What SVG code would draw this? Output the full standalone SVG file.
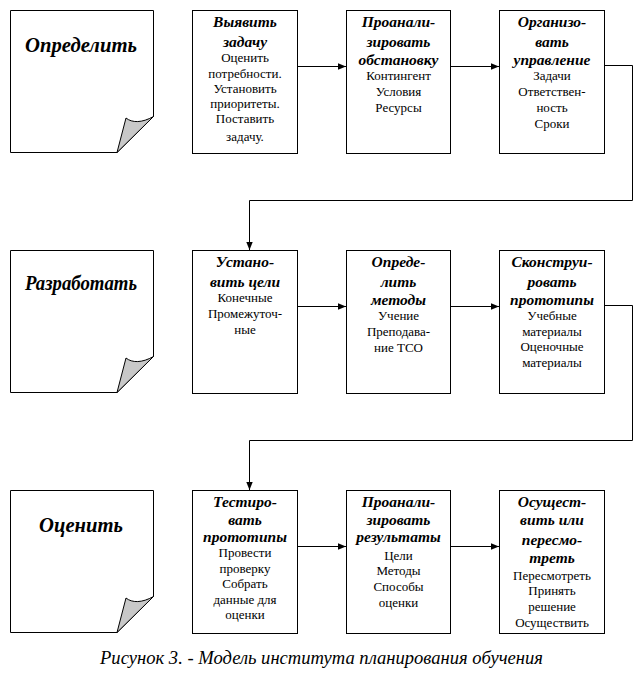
<svg xmlns="http://www.w3.org/2000/svg" width="643" height="691" viewBox="0 0 643 691">
<defs>
<marker id="ah" viewBox="0 0 10 10" refX="10" refY="5" markerWidth="8" markerHeight="8" markerUnits="userSpaceOnUse" orient="auto">
<path d="M0,1 L10,5 L0,9 Z" fill="#000"/>
</marker>
</defs>
<rect width="643" height="691" fill="#fff"/>

<g id="note-define" stroke="#000" stroke-width="1">
<path fill="#fff" d="M10.5,10.5 H153.5 V116.5 L117,152.5 H10.5 Z"/>
<path fill="#c8c8c8" d="M117,152.5 L126,118 C132,123 142,123 153.5,116.5 Z"/>
<text stroke="none" fill="#000" text-anchor="middle" font-family="Liberation Serif" font-weight="bold" font-style="italic" font-size="20" x="81" y="52" textLength="112" lengthAdjust="spacingAndGlyphs">Определить</text>
</g>
<g id="note-develop" stroke="#000" stroke-width="1">
<path fill="#fff" d="M10.5,250.5 H153.5 V356.5 L117,392.5 H10.5 Z"/>
<path fill="#c8c8c8" d="M117,392.5 L126,358 C132,363 142,363 153.5,356.5 Z"/>
<text stroke="none" fill="#000" text-anchor="middle" font-family="Liberation Serif" font-weight="bold" font-style="italic" font-size="20" x="81" y="290" textLength="112" lengthAdjust="spacingAndGlyphs">Разработать</text>
</g>
<g id="note-evaluate" stroke="#000" stroke-width="1">
<path fill="#fff" d="M10.5,490.5 H153.5 V596.5 L117,632.5 H10.5 Z"/>
<path fill="#c8c8c8" d="M117,632.5 L126,598 C132,603 142,603 153.5,596.5 Z"/>
<text stroke="none" fill="#000" text-anchor="middle" font-family="Liberation Serif" font-weight="bold" font-style="italic" font-size="20" x="81" y="532" textLength="84" lengthAdjust="spacingAndGlyphs">Оценить</text>
</g>

<g id="box1">
<rect fill="#fff" stroke="#000" x="192.5" y="10.5" width="105" height="143"/>
<text text-anchor="middle" font-family="Liberation Serif" font-weight="bold" font-style="italic" font-size="15.5" x="245" y="27">Выявить</text>
<text text-anchor="middle" font-family="Liberation Serif" font-weight="bold" font-style="italic" font-size="15.5" x="245" y="47">задачу</text>
<text text-anchor="middle" font-family="Liberation Serif" font-size="13" x="245" y="62">Оценить</text>
<text text-anchor="middle" font-family="Liberation Serif" font-size="13" x="245" y="78">потребности.</text>
<text text-anchor="middle" font-family="Liberation Serif" font-size="13" x="245" y="93">Установить</text>
<text text-anchor="middle" font-family="Liberation Serif" font-size="13" x="245" y="108">приоритеты.</text>
<text text-anchor="middle" font-family="Liberation Serif" font-size="13" x="245" y="123">Поставить</text>
<text text-anchor="middle" font-family="Liberation Serif" font-size="13" x="245" y="141">задачу.</text>
</g>
<g id="box2">
<rect fill="#fff" stroke="#000" x="346.5" y="10.5" width="104" height="143"/>
<text text-anchor="middle" font-family="Liberation Serif" font-weight="bold" font-style="italic" font-size="15.5" x="398.5" y="27">Проанали-</text>
<text text-anchor="middle" font-family="Liberation Serif" font-weight="bold" font-style="italic" font-size="15.5" x="398.5" y="47">зировать</text>
<text text-anchor="middle" font-family="Liberation Serif" font-weight="bold" font-style="italic" font-size="15.5" x="398.5" y="65">обстановку</text>
<text text-anchor="middle" font-family="Liberation Serif" font-size="13" x="398.5" y="80">Контингент</text>
<text text-anchor="middle" font-family="Liberation Serif" font-size="13" x="398.5" y="96">Условия</text>
<text text-anchor="middle" font-family="Liberation Serif" font-size="13" x="398.5" y="112">Ресурсы</text>
</g>
<g id="box3">
<rect fill="#fff" stroke="#000" x="499.5" y="10.5" width="105" height="143"/>
<text text-anchor="middle" font-family="Liberation Serif" font-weight="bold" font-style="italic" font-size="15.5" x="552" y="27">Организо-</text>
<text text-anchor="middle" font-family="Liberation Serif" font-weight="bold" font-style="italic" font-size="15.5" x="552" y="47">вать</text>
<text text-anchor="middle" font-family="Liberation Serif" font-weight="bold" font-style="italic" font-size="15.5" x="552" y="65">управление</text>
<text text-anchor="middle" font-family="Liberation Serif" font-size="13" x="552" y="80">Задачи</text>
<text text-anchor="middle" font-family="Liberation Serif" font-size="13" x="552" y="96">Ответствен-</text>
<text text-anchor="middle" font-family="Liberation Serif" font-size="13" x="552" y="112">ность</text>
<text text-anchor="middle" font-family="Liberation Serif" font-size="13" x="552" y="128">Сроки</text>
</g>

<g id="box4">
<rect fill="#fff" stroke="#000" x="192.5" y="250.5" width="105" height="143"/>
<text text-anchor="middle" font-family="Liberation Serif" font-weight="bold" font-style="italic" font-size="15.5" x="245" y="267">Устано-</text>
<text text-anchor="middle" font-family="Liberation Serif" font-weight="bold" font-style="italic" font-size="15.5" x="245" y="287">вить цели</text>
<text text-anchor="middle" font-family="Liberation Serif" font-size="13" x="245" y="302">Конечные</text>
<text text-anchor="middle" font-family="Liberation Serif" font-size="13" x="245" y="318">Промежуточ-</text>
<text text-anchor="middle" font-family="Liberation Serif" font-size="13" x="245" y="334">ные</text>
</g>
<g id="box5">
<rect fill="#fff" stroke="#000" x="346.5" y="250.5" width="104" height="143"/>
<text text-anchor="middle" font-family="Liberation Serif" font-weight="bold" font-style="italic" font-size="15.5" x="398.5" y="267">Опреде-</text>
<text text-anchor="middle" font-family="Liberation Serif" font-weight="bold" font-style="italic" font-size="15.5" x="398.5" y="287">лить</text>
<text text-anchor="middle" font-family="Liberation Serif" font-weight="bold" font-style="italic" font-size="15.5" x="398.5" y="305">методы</text>
<text text-anchor="middle" font-family="Liberation Serif" font-size="13" x="398.5" y="320">Учение</text>
<text text-anchor="middle" font-family="Liberation Serif" font-size="13" x="398.5" y="336">Преподава-</text>
<text text-anchor="middle" font-family="Liberation Serif" font-size="13" x="398.5" y="352">ние ТСО</text>
</g>
<g id="box6">
<rect fill="#fff" stroke="#000" x="499.5" y="250.5" width="105" height="143"/>
<text text-anchor="middle" font-family="Liberation Serif" font-weight="bold" font-style="italic" font-size="15.5" x="552" y="267">Сконструи-</text>
<text text-anchor="middle" font-family="Liberation Serif" font-weight="bold" font-style="italic" font-size="15.5" x="552" y="287">ровать</text>
<text text-anchor="middle" font-family="Liberation Serif" font-weight="bold" font-style="italic" font-size="15.5" x="552" y="305">прототипы</text>
<text text-anchor="middle" font-family="Liberation Serif" font-size="13" x="552" y="320">Учебные</text>
<text text-anchor="middle" font-family="Liberation Serif" font-size="13" x="552" y="336">материалы</text>
<text text-anchor="middle" font-family="Liberation Serif" font-size="13" x="552" y="351">Оценочные</text>
<text text-anchor="middle" font-family="Liberation Serif" font-size="13" x="552" y="367">материалы</text>
</g>

<g id="box7">
<rect fill="#fff" stroke="#000" x="192.5" y="490.5" width="105" height="143"/>
<text text-anchor="middle" font-family="Liberation Serif" font-weight="bold" font-style="italic" font-size="15.5" x="245" y="507">Тестиро-</text>
<text text-anchor="middle" font-family="Liberation Serif" font-weight="bold" font-style="italic" font-size="15.5" x="245" y="525">вать</text>
<text text-anchor="middle" font-family="Liberation Serif" font-weight="bold" font-style="italic" font-size="15.5" x="245" y="542">прототипы</text>
<text text-anchor="middle" font-family="Liberation Serif" font-size="13" x="245" y="557">Провести</text>
<text text-anchor="middle" font-family="Liberation Serif" font-size="13" x="245" y="573">проверку</text>
<text text-anchor="middle" font-family="Liberation Serif" font-size="13" x="245" y="588">Собрать</text>
<text text-anchor="middle" font-family="Liberation Serif" font-size="13" x="245" y="604">данные для</text>
<text text-anchor="middle" font-family="Liberation Serif" font-size="13" x="245" y="619">оценки</text>
</g>
<g id="box8">
<rect fill="#fff" stroke="#000" x="346.5" y="490.5" width="104" height="143"/>
<text text-anchor="middle" font-family="Liberation Serif" font-weight="bold" font-style="italic" font-size="15.5" x="398.5" y="507">Проанали-</text>
<text text-anchor="middle" font-family="Liberation Serif" font-weight="bold" font-style="italic" font-size="15.5" x="398.5" y="525">зировать</text>
<text text-anchor="middle" font-family="Liberation Serif" font-weight="bold" font-style="italic" font-size="15.5" x="398.5" y="542">результаты</text>
<text text-anchor="middle" font-family="Liberation Serif" font-size="13" x="398.5" y="560">Цели</text>
<text text-anchor="middle" font-family="Liberation Serif" font-size="13" x="398.5" y="575">Методы</text>
<text text-anchor="middle" font-family="Liberation Serif" font-size="13" x="398.5" y="591">Способы</text>
<text text-anchor="middle" font-family="Liberation Serif" font-size="13" x="398.5" y="607">оценки</text>
</g>
<g id="box9">
<rect fill="#fff" stroke="#000" x="499.5" y="490.5" width="105" height="143"/>
<text text-anchor="middle" font-family="Liberation Serif" font-weight="bold" font-style="italic" font-size="15.5" x="552" y="507">Осущест-</text>
<text text-anchor="middle" font-family="Liberation Serif" font-weight="bold" font-style="italic" font-size="15.5" x="552" y="525">вить или</text>
<text text-anchor="middle" font-family="Liberation Serif" font-weight="bold" font-style="italic" font-size="15.5" x="552" y="545">пересмо-</text>
<text text-anchor="middle" font-family="Liberation Serif" font-weight="bold" font-style="italic" font-size="15.5" x="552" y="563">треть</text>
<text text-anchor="middle" font-family="Liberation Serif" font-size="13" x="552" y="580">Пересмотреть</text>
<text text-anchor="middle" font-family="Liberation Serif" font-size="13" x="552" y="595">Принять</text>
<text text-anchor="middle" font-family="Liberation Serif" font-size="13" x="552" y="611">решение</text>
<text text-anchor="middle" font-family="Liberation Serif" font-size="13" x="552" y="627">Осуществить</text>
</g>

<g id="connectors" fill="none" stroke="#000" stroke-width="1">
<path d="M297.5,66.5 H346" marker-end="url(#ah)"/>
<path d="M450.5,66.5 H499" marker-end="url(#ah)"/>
<path d="M604.5,65.5 H632.5 V200.5 H249.5 V250" marker-end="url(#ah)"/>
<path d="M297.5,306.5 H346" marker-end="url(#ah)"/>
<path d="M450.5,306.5 H499" marker-end="url(#ah)"/>
<path d="M604.5,305.5 H632.5 V440.5 H249.5 V490" marker-end="url(#ah)"/>
<path d="M297.5,546.5 H346" marker-end="url(#ah)"/>
<path d="M450.5,546.5 H499" marker-end="url(#ah)"/>
</g>

<text text-anchor="middle" font-family="Liberation Serif" font-style="italic" font-size="18" x="321.5" y="664" textLength="443" lengthAdjust="spacingAndGlyphs">Рисунок 3. - Модель института планирования обучения</text>
</svg>
